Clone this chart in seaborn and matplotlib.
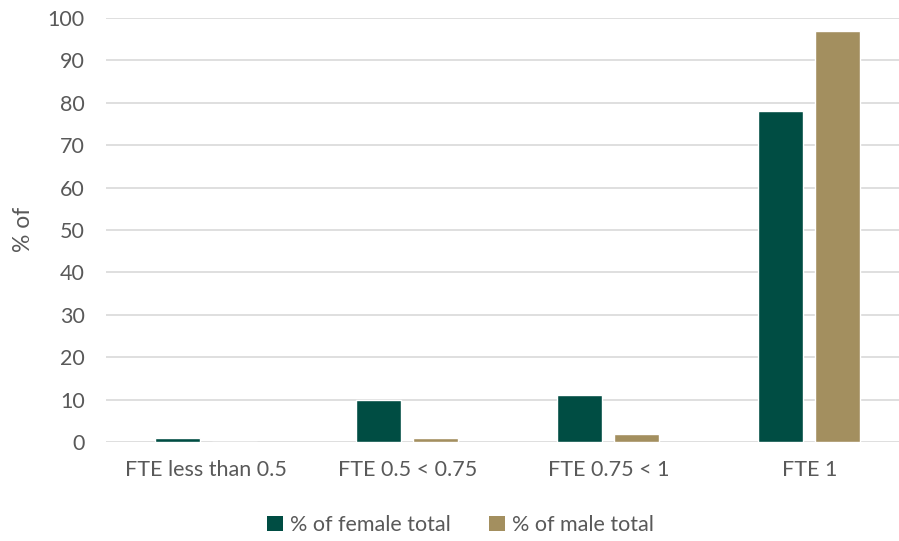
import matplotlib
matplotlib.use("Agg")
import matplotlib.pyplot as plt
import seaborn as sns
import pandas as pd
from matplotlib.patches import Patch

categories = ["FTE less than 0.5", "FTE 0.5 < 0.75", "FTE 0.75 < 1", "FTE 1"]
female = [1, 10, 11, 78]
male = [0, 1, 2, 97]
series = ["% of female total", "% of male total"]
colors = ["#004D43", "#A38F5F"]

df = pd.DataFrame({
    "cat": categories * 2,
    "val": female + male,
    "series": [series[0]] * 4 + [series[1]] * 4,
})

sns.set_theme(style="white")
plt.rcParams["font.family"] = ["Lato", "DejaVu Sans"]
txt = "#595959"
fs = 15.5

fig = plt.figure(figsize=(8.99, 5.41), dpi=100)
ax = fig.add_axes([105.5 / 899, 1 - 442 / 541, (910 - 105.5) / 899, (442 - 18) / 541])
sns.barplot(data=df, x="cat", y="val", hue="series", palette=colors, ax=ax,
            width=0.566, gap=0.21, saturation=1, legend=False, zorder=3)

ax.set_ylim(0, 100)
ax.set_yticks(range(0, 101, 10))
ax.grid(axis="y", color="#D9D9D9", linewidth=1.2, zorder=0)
ax.set_axisbelow(True)
for s in ax.spines.values():
    s.set_visible(False)
ax.tick_params(axis="both", length=0, labelsize=fs, colors=txt)
ax.tick_params(axis="x", pad=13)
ax.tick_params(axis="y", pad=15)
ax.set_xlabel("")
ax.set_ylabel("")
fig.text(23 / 899, 1 - 229 / 541, "% of", rotation=90, ha="center", va="center",
         fontsize=fs + 1, color=txt)

handles = [Patch(facecolor=c, edgecolor="none") for c in colors]
fig.legend(handles, series, loc="center", bbox_to_anchor=(460.5 / 899, 1 - 525 / 541),
           ncol=2, frameon=False, fontsize=fs, labelcolor=txt,
           handlelength=0.75, handleheight=0.75, handletextpad=0.3, columnspacing=1.8)

fig.savefig("out.png", dpi=100)
